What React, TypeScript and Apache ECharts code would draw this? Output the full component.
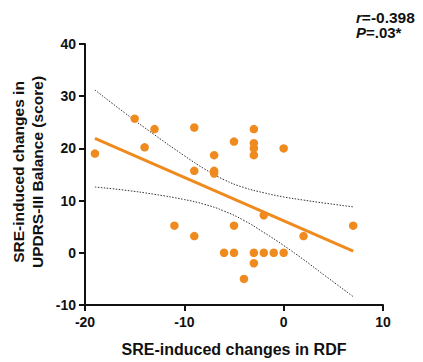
import React, { useEffect, useRef } from "react";
import * as echarts from "echarts";

// Scatter data: SRE-induced changes in RDF (x) vs UPDRS-III Balance (y)
const rdfChange = [-19, -15, -14, -13, -11, -9, -9, -9, -7, -7, -7, -6, -5, -5, -5, -4, -3, -3, -3, -3, -3, -3, -2, -2, -1, 0, 0, 2, 7];
const balanceChange = [19, 25.7, 20.2, 23.7, 5.2, 24, 15.7, 3.2, 18.7, 15.7, 15.2, 0, 21.3, 5.2, 0, -5, 23.7, 21, 20, 18.7, 0, -2, 7.2, 0, 0, 20, 0, 3.2, 5.2];

// Regression line end points
const fitX = [-19, 7];
const fitY = [21.9, 0.3];

// 95% confidence band
const bandX = [-19, -16, -13, -10, -8, -6, -4, -2, 0, 2, 4, 7];
const bandUpper = [31.2, 26.8, 22.6, 18.6, 16.1, 14.0, 12.5, 11.5, 10.7, 10.1, 9.55, 8.8];
const bandLower = [12.6, 12.0, 11.2, 10.2, 9.3, 8.0, 6.2, 3.9, 1.4, -1.3, -4.15, -8.4];

const xTicks = { min: -20, max: 10, interval: 10 };
const yTicks = { min: -10, max: 40, interval: 10 };

const xTitle = "SRE-induced changes in RDF";
const yTitleLines = ["SRE-induced changes in", "UPDRS-III Balance (score)"];
const statR = "-0.398";
const statP = ".03*";

const ORANGE = "#EF8B1E";
const FONT = "'Liberation Sans', Arial, sans-serif";

export default function App() {
  const ref = useRef<HTMLDivElement>(null);
  useEffect(() => {
    if (!ref.current) return;
    const chart = echarts.init(ref.current, null, { renderer: "svg" });
    const axisCommon = {
      axisLine: { show: true, onZero: false, lineStyle: { color: "#111", width: 2 } },
      axisTick: { show: true, inside: false, length: 6, lineStyle: { color: "#111", width: 2 } },
      splitLine: { show: false },
      axisLabel: { color: "#111", fontSize: 14, fontWeight: "bold", fontFamily: FONT },
    };
    chart.setOption({
      animation: false,
      backgroundColor: "#fff",
      textStyle: { fontFamily: FONT },
      grid: { left: 85, right: 40, top: 44, bottom: 51, containLabel: false },
      xAxis: {
        type: "value",
        ...xTicks,
        ...axisCommon,
        axisLabel: { ...axisCommon.axisLabel, margin: 10 },
        name: xTitle,
        nameLocation: "middle",
        nameGap: 36,
        nameTextStyle: { color: "#111", fontSize: 16, fontWeight: "bold", fontFamily: FONT },
      },
      yAxis: {
        type: "value",
        ...yTicks,
        ...axisCommon,
        axisLabel: { ...axisCommon.axisLabel, margin: 9 },
      },
      graphic: [
        {
          type: "text",
          x: 18,
          y: 172,
          rotation: Math.PI / 2,
          style: {
            text: yTitleLines[0],
            fill: "#111",
            font: `bold 15.5px ${FONT}`,
            textAlign: "center",
            textVerticalAlign: "middle",
          },
        },
        {
          type: "text",
          x: 37,
          y: 172,
          rotation: Math.PI / 2,
          style: {
            text: yTitleLines[1],
            fill: "#111",
            font: `bold 15.5px ${FONT}`,
            textAlign: "center",
            textVerticalAlign: "middle",
          },
        },
        {
          type: "text",
          left: 356,
          top: 9,
          style: {
            text: "{i|r}{b|=" + statR + "}",
            rich: {
              i: { font: `italic bold 15px ${FONT}`, fill: "#111" },
              b: { font: `bold 15.5px ${FONT}`, fill: "#111" },
            },
          },
        },
        {
          type: "text",
          left: 356,
          top: 25,
          style: {
            text: "{i|P}{b|=" + statP + "}",
            rich: {
              i: { font: `italic bold 15px ${FONT}`, fill: "#111" },
              b: { font: `bold 15px ${FONT}`, fill: "#111" },
            },
          },
        },
      ],
      series: [
        {
          type: "line",
          data: bandX.map((x, i) => [x, bandUpper[i]]),
          smooth: true,
          symbol: "none",
          lineStyle: { color: "#333", width: 1, type: [1.5, 1.5] },
          z: 1,
        },
        {
          type: "line",
          data: bandX.map((x, i) => [x, bandLower[i]]),
          smooth: true,
          symbol: "none",
          lineStyle: { color: "#333", width: 1, type: [1.5, 1.5] },
          z: 1,
        },
        {
          type: "line",
          data: fitX.map((x, i) => [x, fitY[i]]),
          symbol: "none",
          lineStyle: { color: ORANGE, width: 3 },
          z: 2,
        },
        {
          type: "scatter",
          data: rdfChange.map((x, i) => [x, balanceChange[i]]),
          symbolSize: 8.5,
          itemStyle: { color: ORANGE, opacity: 1 },
          z: 3,
        },
      ],
    });
    return () => chart.dispose();
  }, []);
  return (
    <div
      ref={ref}
      style={{ position: "fixed", left: 0, top: 0, width: 423, height: 362 }}
    />
  );
}
